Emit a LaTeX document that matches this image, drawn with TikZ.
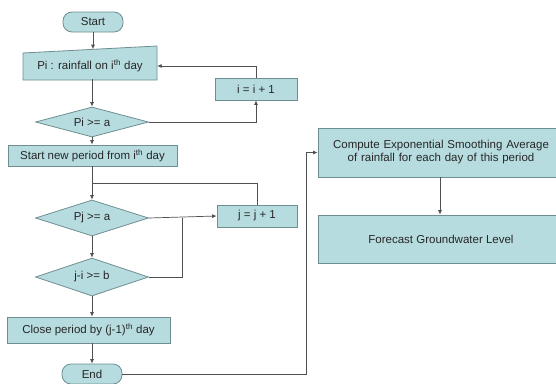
\documentclass[tikz,border=0pt]{standalone}
\usepackage{fontspec}
\setmainfont{Liberation Sans}
\usetikzlibrary{shapes.geometric,arrows.meta}
\definecolor{boxfill}{HTML}{B7DCDF}
\definecolor{boxline}{HTML}{6F8E92}
\definecolor{lineg}{HTML}{505050}
\begin{document}
\begin{tikzpicture}[x=1pt,y=-1pt,
  every node/.style={font=\fontsize{11.5}{13}\selectfont, text=black!85},
  proc/.style={draw=boxline, fill=boxfill, line width=0.8pt, rectangle, inner sep=0pt, align=center},
  term/.style={draw=boxline, fill=boxfill, line width=0.8pt, rectangle, rounded corners=9pt, inner sep=0pt, minimum width=60pt, minimum height=20pt},
  dec/.style={draw=boxline, fill=boxfill, line width=0.8pt, diamond, aspect=3, inner sep=0pt, minimum width=113pt},
  conn/.style={draw=lineg, line width=0.7pt},
  arr/.style={conn, -{Latex[length=4.5pt,width=4pt]}}]
\useasboundingbox (0,0) rectangle (556,383);
\clip (0,0) rectangle (556,383);
\fill[white] (0,0) rectangle (556,383);

% nodes
\node[term] (start) at (93,22) {Start};
\fill[boxfill] (23,53) -- (157,46) -- (157,80) -- (23,80) -- cycle;
\draw[boxline, line width=0.8pt] (23,53) -- (157,46) -- (157,80) -- (23,80) -- cycle;
\node[inner sep=0pt, minimum width=134pt, minimum height=26pt] (pi) at (90,66) {Pi : rainfall on i\textsuperscript{th} day};
\coordinate (pitop) at (93,49.2);
\node[dec, minimum height=30pt] (d1) at (92,122) {Pi >= a};
\node[proc, minimum width=82pt, minimum height=22pt] (i1) at (256,89) {i = i + 1};
\node[proc, minimum width=169pt, minimum height=21pt] (snp) at (92.5,155.5) {Start new period from i\textsuperscript{th} day};
\node[dec, minimum height=36pt] (d2) at (92,218) {Pj >= a};
\node[proc, minimum width=80pt, minimum height=22pt] (j1) at (257,216) {j = j + 1};
\node[dec, minimum height=38pt] (d3) at (92,277) {j-i >= b};
\node[proc, minimum width=163pt, minimum height=26pt] (close) at (88.5,330) {Close period by (j-1)\textsuperscript{th} day};
\node[term] (end) at (92,374) {End};
\node[proc, minimum width=246pt, minimum height=49pt, text width=240pt] (comp) at (441,152.5) {Compute Exponential Smoothing Average\\ of rainfall for each day of this period};
\node[proc, minimum width=246pt, minimum height=48pt] (fore) at (441,239) {Forecast Groundwater Level};

\coordinate (jjoin) at (92,183);
\coordinate (bjoin) at (182,218);
\coordinate (ecorner) at (306,374);

% connectors
\draw[arr] (start.south) -- (start.south |- pitop);
\draw[arr] (pi.south -| d1.north) -- (d1.north);
\draw[arr] (d1.east) -| (i1.south);
\draw[arr] (i1.north) |- (pi.east);
\draw[arr] (d1.south) -- (snp.north -| d1.south);
\draw[arr] (snp.south -| d2.north) -- (d2.north);
\draw[conn] (j1.north) |- (jjoin);
\draw[arr] (d2.east) -- (j1.west);
\draw[conn] (d3.east) -| (bjoin);
\draw[arr] (d2.south) -- (d3.north);
\draw[arr] (d3.south) -- (d3.south |- close.north);
\draw[arr] (close.south -| end.north) -- (end.north);
\draw[arr] (end.east) -- (ecorner) |- (comp.west);
\draw[arr] (comp.south -| 440,0) -- (fore.north -| 440,0);
\end{tikzpicture}
\end{document}
